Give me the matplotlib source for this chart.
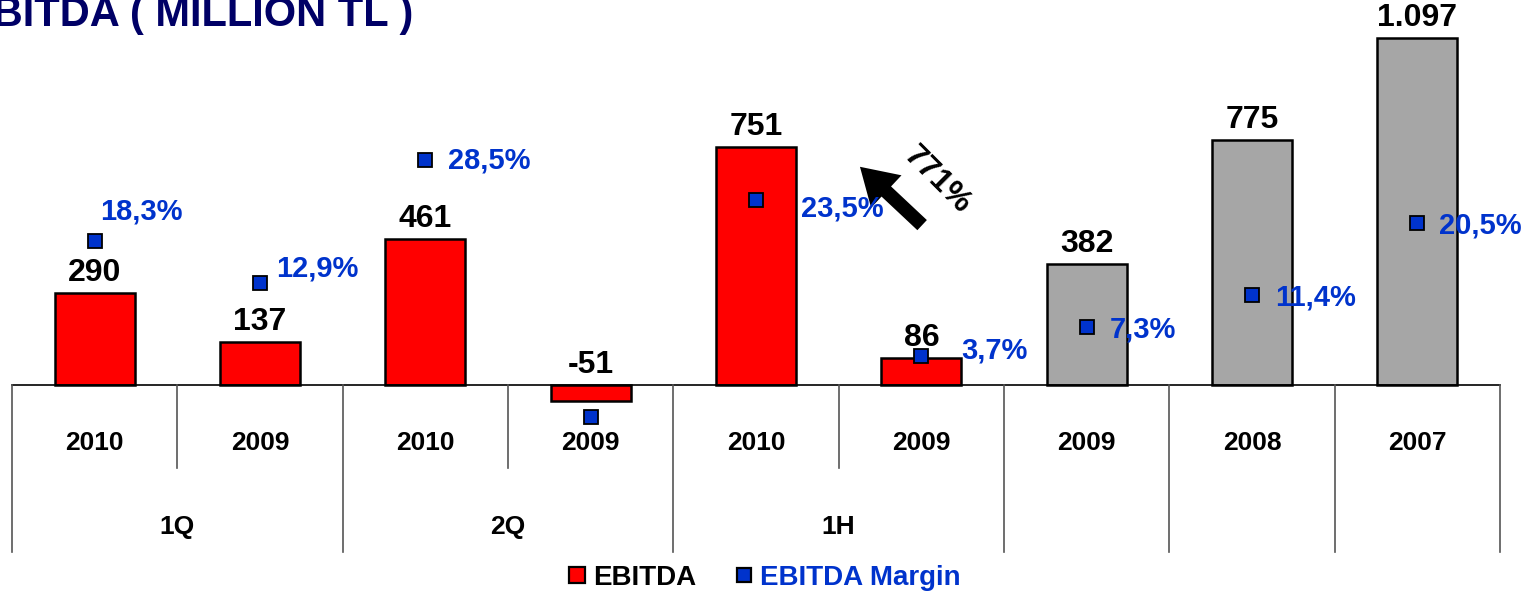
import matplotlib.pyplot as plt
from matplotlib.lines import Line2D

plt.rcParams['font.family'] = ['Liberation Sans', 'DejaVu Sans']
plt.rcParams['font.weight'] = 'bold'

# EBITDA (million TL) and margin (%)
years = ['2010', '2009', '2010', '2009', '2010', '2009', '2009', '2008', '2007']
groups = ['1Q', '2Q', '1H']
ebitda = [290, 137, 461, -51, 751, 86, 382, 775, 1097]
margin = [18.3, 12.9, 28.5, -4.1, 23.5, 3.7, 7.3, 11.4, 20.5]
growth_label = '771%'

RED = '#ff0000'
GREY = '#a6a6a6'
BLUE = '#0033cc'
NAVY = '#000066'

bar_colors = [RED] * 6 + [GREY] * 3
# label offsets (pixels) for the margin values
margin_offsets = [(5, 29), (16, 15), (23, 0), (38, 0), (45, -9),
                  (40, 5), (23, -2), (23, -2), (22, -2)]

W, H = 1527, 596
fig = plt.figure(figsize=(W / 100, H / 100), dpi=100)

x0, x1 = 12, 1500
base, top = 385, 30
ax = fig.add_axes([x0 / W, (H - base) / H, (x1 - x0) / W, (base - top) / H])
x = list(range(len(years)))

ax.bar(x, ebitda, width=0.484, color=bar_colors, edgecolor='black',
       linewidth=1.8, clip_on=False, zorder=2)
ax.set_xlim(-0.5, len(years) - 0.5)
ax.set_ylim(0, (base - top) / 0.3163)
for s in ['top', 'left', 'right']:
    ax.spines[s].set_visible(False)
ax.spines['bottom'].set_linewidth(1.2)
ax.set_xticks([])
ax.set_yticks([])

for xi, v in zip(x, ebitda):
    ax.annotate(f'{v:,}'.replace(',', '.'), (xi, max(v, 0)),
                xytext=(0, 5), textcoords='offset pixels',
                ha='center', va='bottom', fontsize=23, color='black')

ax2 = ax.twinx()
ax2.set_ylim(0, (base - top) / 7.883)
ax2.axis('off')
ax2.plot(x, margin, linestyle='none', marker='s', markersize=10.5,
         markerfacecolor=BLUE, markeredgecolor='black', markeredgewidth=1.3,
         clip_on=False, zorder=3)
for xi, m, (dx, dy) in zip(x, margin, margin_offsets):
    ax2.annotate(f'{m:.1f}%'.replace('.', ','), (xi, m),
                 xytext=(dx, dy), textcoords='offset pixels',
                 ha='left', va='center', fontsize=21, color=BLUE)

# growth arrow between 1H 2009 and 1H 2010
ax.annotate('', xy=(0.5685, 0.6200), xytext=(0.6130, 0.4450),
            xycoords='axes fraction',
            arrowprops=dict(arrowstyle='simple,head_length=1.3,head_width=1.6,tail_width=0.5',
                            mutation_scale=20, color='black', lw=0))
ax.text(0.6215, 0.578, growth_label, transform=ax.transAxes, rotation=-45,
        ha='center', va='center', fontsize=23, color='black')

# category table under the bars
low = 552
tab = fig.add_axes([x0 / W, (H - low) / H, (x1 - x0) / W, (low - base) / H])
tab.set_xlim(-0.5, len(years) - 0.5)
tab.set_ylim(0, 1)
tab.axis('off')
mid = (low - 468) / (low - base)
for i in range(len(years) + 1):
    full = (i % 2 == 0) or i >= 6
    tab.plot([i - 0.5, i - 0.5], [0 if full else mid, 1], color='#555555',
             linewidth=1.2, clip_on=False)
for xi, yr in zip(x, years):
    tab.text(xi, (low - 443) / (low - base), yr, ha='center', va='center',
             fontsize=19, color='black')
for gi, g in enumerate(groups):
    tab.text(gi * 2 + 0.5, (low - 527) / (low - base), g, ha='center',
             va='center', fontsize=19, color='black')

fig.text(-35 / W, (H - 26) / H, 'EBITDA ( MILLION TL )', ha='left',
         va='baseline', fontsize=30, color=NAVY)

handles = [Line2D([], [], linestyle='none', marker='s', markersize=11.5,
                  markerfacecolor=RED, markeredgecolor='black', markeredgewidth=1.6),
           Line2D([], [], linestyle='none', marker='s', markersize=10.5,
                  markerfacecolor=BLUE, markeredgecolor='black', markeredgewidth=1.6)]
leg = fig.legend(handles, ['EBITDA', 'EBITDA Margin'], loc='center',
                 bbox_to_anchor=(764 / W, (H - 578) / H), ncol=2, frameon=False,
                 handlelength=0.7, handletextpad=0.2, columnspacing=1.4,
                 prop={'size': 20, 'weight': 'bold'})
leg.get_texts()[0].set_color('black')
leg.get_texts()[1].set_color(BLUE)

fig.savefig('out.png', dpi=100)
